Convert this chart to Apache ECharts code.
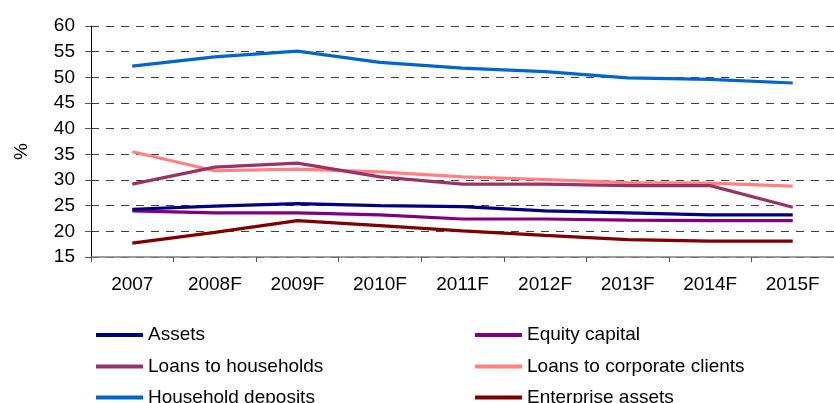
<!DOCTYPE html>
<html><head><meta charset="utf-8">
<script src="https://cdn.jsdelivr.net/npm/echarts@6/dist/echarts.min.js"></script>
<style>html,body{margin:0;padding:0;background:#fff}#c{width:834px;height:403px}</style>
</head><body><div id="c"></div>
<script>
const categories = ['2007','2008F','2009F','2010F','2011F','2012F','2013F','2014F','2015F'];
const assets = [24.3, 24.9, 25.4, 25.0, 24.8, 24.0, 23.6, 23.2, 23.2];
const equityCapital = [24.0, 23.6, 23.6, 23.2, 22.4, 22.4, 22.2, 22.1, 22.1];
const loansHouseholds = [29.2, 32.5, 33.3, 30.6, 29.2, 29.2, 28.9, 28.9, 24.7];
const loansCorporate = [35.5, 31.8, 32.1, 31.6, 30.6, 30.1, 29.5, 29.4, 28.8];
const householdDeposits = [52.2, 54.0, 55.1, 52.9, 51.8, 51.1, 49.9, 49.6, 48.9];
const enterpriseAssets = [17.7, 19.8, 22.1, 21.1, 20.1, 19.2, 18.4, 18.1, 18.1];
const yTicks = {min: 15, max: 60, interval: 5};
const legendLayout = [
  ['Assets', 96, 325], ['Equity capital', 475, 325],
  ['Loans to households', 96, 356.5], ['Loans to corporate clients', 475, 356.5],
  ['Household deposits', 96, 387.5], ['Enterprise assets', 475, 387.5]
];

const FONT = 'Liberation Sans, Arial, sans-serif';
const chart = echarts.init(document.getElementById('c'), null, {renderer: 'canvas'});
function s(name, data, color) {
  return {name, type: 'line', data, symbol: 'none', smooth: false,
    lineStyle: {color, width: 3.2}, itemStyle: {color}, animation: false};
}
chart.setOption({
  animation: false,
  grid: {left: 91, top: 26, height: 231, width: 753},
  xAxis: {type: 'category', data: categories, boundaryGap: true,
    axisLine: {lineStyle: {color: '#808080', width: 1.5}},
    axisTick: {show: true, length: 5, lineStyle: {color: '#555'}},
    axisLabel: {color: '#000', fontFamily: FONT, fontSize: 19, margin: 18},
    splitLine: {show: false}},
  yAxis: {type: 'value', min: yTicks.min, max: yTicks.max, interval: yTicks.interval,
    axisLine: {show: true, lineStyle: {color: '#000', width: 1}},
    axisTick: {show: true, length: 6, inside: false, lineStyle: {color: '#555'}},
    axisLabel: {color: '#000', fontFamily: FONT, fontSize: 19, margin: 16},
    splitLine: {show: true, lineStyle: {color: '#404040', type: [8, 7], width: 1}}},
  legend: legendLayout.map(([name, x, y]) => ({
    left: x, top: y, padding: 0, itemWidth: 47, itemHeight: 4, itemGap: 0, icon: 'rect',
    textStyle: {fontFamily: FONT, fontSize: 19, color: '#000', lineHeight: 20, padding: [0,0,0,0]},
    data: [name]})),
  graphic: [{type: 'text', left: 12, top: 143, rotation: Math.PI/2,
    style: {text: '%', font: '19px ' + FONT, fill: '#000'}}],
  series: [
    s('Household deposits', householdDeposits, '#0066CC'),
    s('Loans to corporate clients', loansCorporate, '#FF8080'),
    s('Loans to households', loansHouseholds, '#993366'),
    s('Enterprise assets', enterpriseAssets, '#800000'),
    s('Equity capital', equityCapital, '#800080'),
    s('Assets', assets, '#000080')
  ]
});
</script></body></html>
